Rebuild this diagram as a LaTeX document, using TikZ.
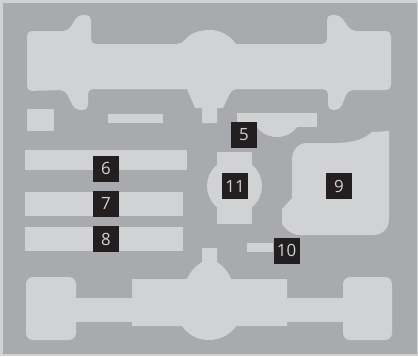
\documentclass[tikz,border=0pt]{standalone}
\usepackage{fontspec}
\setsansfont{Open Sans}
\definecolor{c1}{HTML}{231F20}
\definecolor{c2}{HTML}{D1D2D4}
\definecolor{c3}{HTML}{A9AAAD}
\begin{document}
\begin{tikzpicture}[
    x=0.025cm, y=-0.025cm,
    every node/.style={font=\sffamily},
    part/.style={fill=c2, draw=none},
    tag/.style={rectangle, fill=c1, text=c2, inner sep=0pt, minimum size=0.65cm,
        font=\sffamily\fontsize{12}{14}\selectfont},
]

% ============================================================ tray
\fill[c2] (0, 0) rectangle (418, 356);
\fill[c3] (3, 2.5) rectangle (417, 354);

% ============================================================ upper long cut-out
\fill[part, rounded corners=3.5pt]
    (27, 31) -- (68, 31) -- (78, 15) -- (91, 15) -- (91, 44)
    -- (182, 44) [sharp corners] .. controls (190, 33) and (200, 30) .. (209, 30)
    .. controls (218, 30) and (228, 33) .. (236, 44) [rounded corners=3.5pt]
    -- (327, 44) -- (327, 15) -- (340, 15) -- (351, 31) -- (391, 31)
    -- (391, 90) -- (348, 90) -- (340, 110) -- (328, 110) -- (328, 89)
    -- (232, 89) [sharp corners] -- (223, 108) -- (217, 108) -- (217, 123)
    -- (202, 123) -- (202, 108) -- (195, 108) -- (187, 89) [rounded corners=3.5pt]
    -- (88, 89) -- (88, 110) -- (75, 110) -- (65, 90) -- (27, 91) -- cycle;

% small pieces below it
\fill[part] (27, 109) rectangle (54, 131);
\fill[part] (108, 114) rectangle (163, 123);

% ============================================================ the three bars
\fill[part] (25, 150) rectangle (187, 170);
\fill[part] (25, 192) rectangle (183, 216);
\fill[part] (25, 227) rectangle (183, 251);

% ============================================================ middle pieces
\fill[part] (237, 113) rectangle (317, 127);
\fill[part] (257, 127) .. controls (261, 133) and (269, 137) .. (277, 137)
    .. controls (285, 137) and (293, 133) .. (297, 127) -- cycle;

\fill[part] (217, 152) rectangle (252, 224);
\fill[part] (234.5, 186) circle (27.5);

\fill[part] (389, 131) -- (389, 219)
    .. controls (389, 229) and (382, 235) .. (373, 235)
    -- (300, 235) .. controls (292, 235) and (286, 230) .. (282, 224)
    -- (282, 209) -- (292, 198) -- (292, 160)
    .. controls (292, 150) and (298, 143) .. (307, 143)
    -- (340, 143) .. controls (355, 142) and (364, 139) .. (372, 132) -- cycle;

\fill[part] (247, 243) rectangle (273, 252);

% ============================================================ lower long cut-out
\fill[part, rounded corners=5pt] (26, 277) rectangle (76, 340);
\fill[part, rounded corners=5pt] (343, 277) rectangle (392, 340);
\fill[part] (70, 298) rectangle (349, 322);
\fill[part] (132, 279) -- (187, 279)
    .. controls (191, 270) and (197, 265) .. (202, 262) -- (202, 248)
    -- (217, 248) -- (217, 262)
    .. controls (223, 266) and (228, 271) .. (231, 279)
    -- (287, 279) -- (287, 326) -- (236, 326)
    .. controls (230, 335) and (220, 340) .. (209, 340)
    .. controls (198, 340) and (188, 335) .. (182, 326)
    -- (132, 326) -- cycle;

% ============================================================ number tags
\node[tag] (tag5) at (244, 135) {5};
\node[tag] (tag6) at (106, 168.5) {6};
\node[tag] (tag7) at (106, 203.5) {7};
\node[tag] (tag8) at (106, 239) {8};
\node[tag] (tag9) at (339, 186) {9};
\node[tag] (tag10) at (286.5, 250.5) {10};
\node[tag] (tag11) at (235, 186) {11};

\end{tikzpicture}
\end{document}
